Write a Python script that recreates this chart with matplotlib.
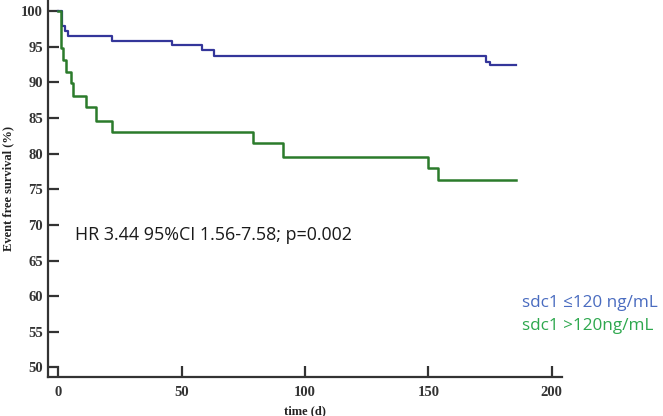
import matplotlib
matplotlib.use("Agg")
import matplotlib.pyplot as plt

# Data
low_t = [0, 1.4, 2.7, 4.0, 21.9, 46.2, 58.1, 63.1, 173.4, 175.0, 185.4]
low_s = [100, 97.9, 97.2, 96.5, 95.8, 95.2, 94.5, 93.7, 92.9, 92.4, 92.4]

high_t = [0, 1.1, 2.0, 3.0, 5.0, 5.8, 11.2, 15.3, 21.9, 79.0, 91.0, 150.0, 154.0, 185.4]
high_s = [100, 94.8, 93.2, 91.5, 89.9, 88.1, 86.5, 84.6, 83.0, 81.5, 79.6, 78.0, 76.3, 76.3]

xticks = [0, 50, 100, 150, 200]
yticks = [50, 55, 60, 65, 70, 75, 80, 85, 90, 95, 100]

fig = plt.figure(figsize=(6.63, 4.16), dpi=100)
ax = fig.add_axes([48.4 / 663, 1 - 376.7 / 416, (561.6 - 48.4) / 663, 376.2 / 416])

ax.step(low_t, low_s, where="post", color="#34369a", lw=1.6)
ax.step(high_t, high_s, where="post", color="#2b7b2b", lw=1.8)

ax.set_xlim(-4, 204)
ax.set_ylim(48.7, 101.5)
ax.set_xticks(xticks)
ax.set_yticks(yticks)

for s in ["top", "right"]:
    ax.spines[s].set_visible(False)
for s in ["left", "bottom"]:
    ax.spines[s].set_linewidth(1.6)
    ax.spines[s].set_color("#333333")

ax.tick_params(axis="both", direction="in", length=8, width=1.6, color="#333333")
ax.tick_params(axis="y", pad=4)
ax.tick_params(axis="x", pad=7)
for lab in ax.get_xticklabels() + ax.get_yticklabels():
    lab.set_family("Liberation Serif")
    lab.set_weight("bold")
    lab.set_fontsize(10.5)
    lab.set_color("#333333")

ax.set_ylabel("Event free survival (%)", family="Liberation Serif", weight="bold",
              fontsize=9, color="#222222", labelpad=5)
ax.set_xlabel("time (d)", family="Liberation Serif", weight="bold",
              fontsize=9, color="#222222", labelpad=4)

fig.text(75 / 663, 1 - 235 / 416, "HR 3.44 95%CI 1.56-7.58; p=0.002",
         family="Open Sans", fontsize=12.9, color="#1a1a1a", va="center", ha="left")
fig.text(522 / 663, 1 - 303 / 416, "sdc1 \u2264120 ng/mL",
         family="Open Sans", fontsize=12.3, color="#4a6cc0", va="center", ha="left")
fig.text(522 / 663, 1 - 326 / 416, "sdc1 >120ng/mL",
         family="Open Sans", fontsize=12.3, color="#2ea84e", va="center", ha="left")

fig.savefig("out.png", dpi=100)
